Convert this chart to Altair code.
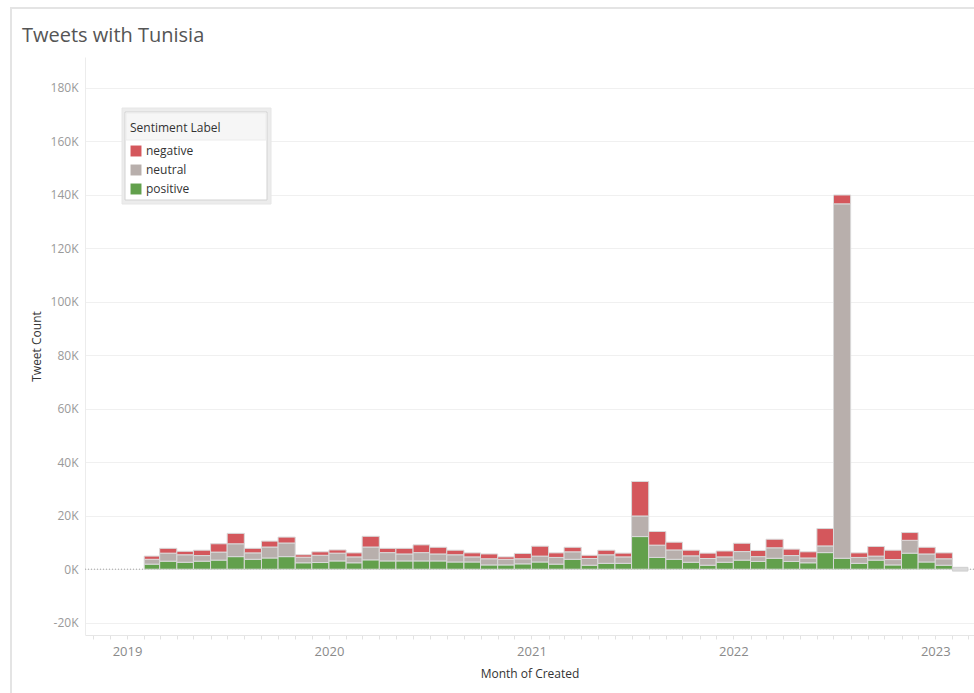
import altair as alt
import pandas as pd

# Monthly tweet counts mentioning Tunisia, split by sentiment (Feb 2019 - Jan 2023)
months = pd.date_range("2019-02-01", "2023-01-01", freq="MS")

positive = [
    1900, 3000, 2600, 3000, 3400, 4700, 3700, 4200, 4700, 2400, 2500,
    3100, 2400, 3500, 3100, 3100, 3100, 3100, 2700, 2700, 1600, 1600, 2000,
    2700, 1900, 3700, 1500, 2200, 2200, 12200, 4400, 3700, 2600, 1500, 2600,
    3400, 2900, 4100, 2900, 2400, 6200, 4100, 2200, 3400, 1600, 6000, 2700,
    1500,
]
neutral = [
    1800, 3000, 2800, 2100, 3000, 4800, 2400, 4100, 5100, 2100, 2700,
    2900, 2200, 4800, 3100, 2600, 3100, 2600, 2700, 1900, 2300, 2100, 1900,
    2200, 2500, 2800, 2500, 3200, 2400, 7700, 4600, 3500, 2400, 2500, 2000,
    3200, 1800, 3900, 2200, 1800, 2500, 132500, 2200, 1500, 2000, 4800, 3000,
    2400,
]
negative = [
    1200, 1800, 1300, 2000, 3100, 3900, 1700, 2200, 2200, 900, 1300,
    1200, 1500, 4000, 1600, 2100, 2900, 2500, 1700, 1500, 1800, 900, 2000,
    3700, 1700, 1700, 1200, 1700, 1400, 12900, 5100, 2900, 2100, 2000, 2200,
    3100, 2300, 3200, 2400, 2300, 6500, 3300, 1700, 3600, 3500, 2900, 2500,
    2200,
]

# February 2023 shows only an empty placeholder around zero
pending_month = ["2023-02-01"]
pending_low = [-700]
pending_high = [700]

sentiments = ["negative", "neutral", "positive"]
palette = ["#d4575c", "#b8afac", "#62a04c"]
y_ticks = list(range(-20000, 200000, 20000))

# stack positive at the bottom, then neutral, then negative on top
rows = []
for i, m in enumerate(months):
    base = 0
    for label, series in (("positive", positive), ("neutral", neutral), ("negative", negative)):
        rows.append({
            "month": m.strftime("%Y-%m-%d"),
            "month_end": (m + pd.offsets.MonthBegin(1)).strftime("%Y-%m-%d"),
            "label": label,
            "count": base,
            "count_end": base + series[i],
            "tweets": series[i],
        })
        base += series[i]
df = pd.DataFrame(rows)

pending = pd.DataFrame({
    "month": pending_month,
    "month_end": [(pd.Timestamp(d) + pd.offsets.MonthBegin(1)).strftime("%Y-%m-%d") for d in pending_month],
    "count": pending_low,
    "count_end": pending_high,
})

x_scale = alt.Scale(domain=[alt.DateTime(year=2018, month=10, date=17),
                            alt.DateTime(year=2023, month=3, date=12)])
y_scale = alt.Scale(domain=[-24600, 191500], nice=False, zero=False)

x_axis = alt.Axis(
    title="Month of Created",
    tickCount={"interval": "month", "step": 1},
    labelExpr="month(datum.value) == 0 ? timeFormat(datum.value, '%Y') : ''",
    labelColor="#8a8a8a", labelFontSize=13, labelPadding=6,
    labelOverlap=False, labelBound=False, labelFlush=False,
    tickColor="#e2e2e2", tickSize=4,
    domainColor="#e6e6e6", grid=False,
    titleColor="#333333", titleFontSize=12, titleFontWeight="normal", titlePadding=10,
)
y_axis = alt.Axis(
    title="Tweet Count",
    values=y_ticks,
    labelExpr="(datum.value / 1000) + 'K'",
    labelColor="#9a9a9a", labelFontSize=12, labelPadding=7,
    ticks=False, domainColor="#ececec",
    gridColor="#f0f0f0",
    titleColor="#333333", titleFontSize=12, titleFontWeight=500, titlePadding=7,
)

# outer dashboard frame
frame = alt.Chart(pd.DataFrame({"k": [0]})).mark_rect(
    fillOpacity=0, stroke="#e4e4e4", strokeWidth=2
).encode(x=alt.value(-74), x2=alt.value(1000), y=alt.value(-49), y2=alt.value(700))

heading = alt.Chart(pd.DataFrame({"k": [0]})).mark_text(
    text="Tweets with Tunisia", align="left", baseline="middle",
    fontSize=20, color="#555555", font="Open Sans",
).encode(x=alt.value(-63), y=alt.value(-21))

zero_line = alt.Chart(pd.DataFrame({"count": [0]})).mark_rule(
    color="#a0a0a0", strokeDash=[1, 2], strokeWidth=1
).encode(y=alt.Y("count:Q", scale=y_scale, axis=y_axis))

bars = alt.Chart(df).mark_bar(stroke="#d9d9d9", strokeWidth=1).encode(
    x=alt.X("month:T", scale=x_scale, axis=x_axis),
    x2="month_end:T",
    y=alt.Y("count:Q", scale=y_scale, axis=y_axis),
    y2="count_end:Q",
    color=alt.Color(
        "label:N",
        scale=alt.Scale(domain=sentiments, range=palette),
        legend=alt.Legend(
            title="Sentiment Label", orient="none", legendX=45, legendY=66,
            symbolType="square", symbolSize=120, symbolStrokeWidth=0,
            labelFontSize=12, labelColor="#333333", titleFontSize=12,
            titleFontWeight="normal", titleColor="#333333", titlePadding=10,
            rowPadding=7, padding=0, labelFont="Open Sans", titleFont="Open Sans",
        ),
    ),
)

placeholder = alt.Chart(pending).mark_bar(fill="#dadada", stroke="#cfcfcf", strokeWidth=1).encode(
    x=alt.X("month:T", scale=x_scale, axis=x_axis),
    x2="month_end:T",
    y=alt.Y("count:Q", scale=y_scale, axis=y_axis),
    y2="count_end:Q",
)

# legend card behind the legend entries: soft outer edge, white card, grey header strip
legend_shadow = alt.Chart(pd.DataFrame({"k": [0]})).mark_rect(
    fill="#ececec", stroke="#e6e6e6", strokeWidth=1
).encode(x=alt.value(37), x2=alt.value(186), y=alt.value(51), y2=alt.value(147))
legend_box = alt.Chart(pd.DataFrame({"k": [0]})).mark_rect(
    fill="white", stroke="#d2d2d2", strokeWidth=1
).encode(x=alt.value(40), x2=alt.value(182), y=alt.value(55), y2=alt.value(143))
legend_head = alt.Chart(pd.DataFrame({"k": [0]})).mark_rect(
    fill="#f6f6f6", stroke="#ececec", strokeWidth=1
).encode(x=alt.value(41), x2=alt.value(181), y=alt.value(56), y2=alt.value(83))

chart = alt.layer(
    frame, heading, zero_line, bars, placeholder, legend_shadow, legend_box, legend_head
).properties(
    width=889,
    height=578,
    autosize=alt.AutoSizeParams(type="none"),
    padding={"left": 85, "top": 57, "right": 0, "bottom": 58},
).configure(
    font="Open Sans",
    background="white",
).configure_view(stroke=None)

chart.save("out.html", embed_options={"renderer": "svg", "actions": False})
